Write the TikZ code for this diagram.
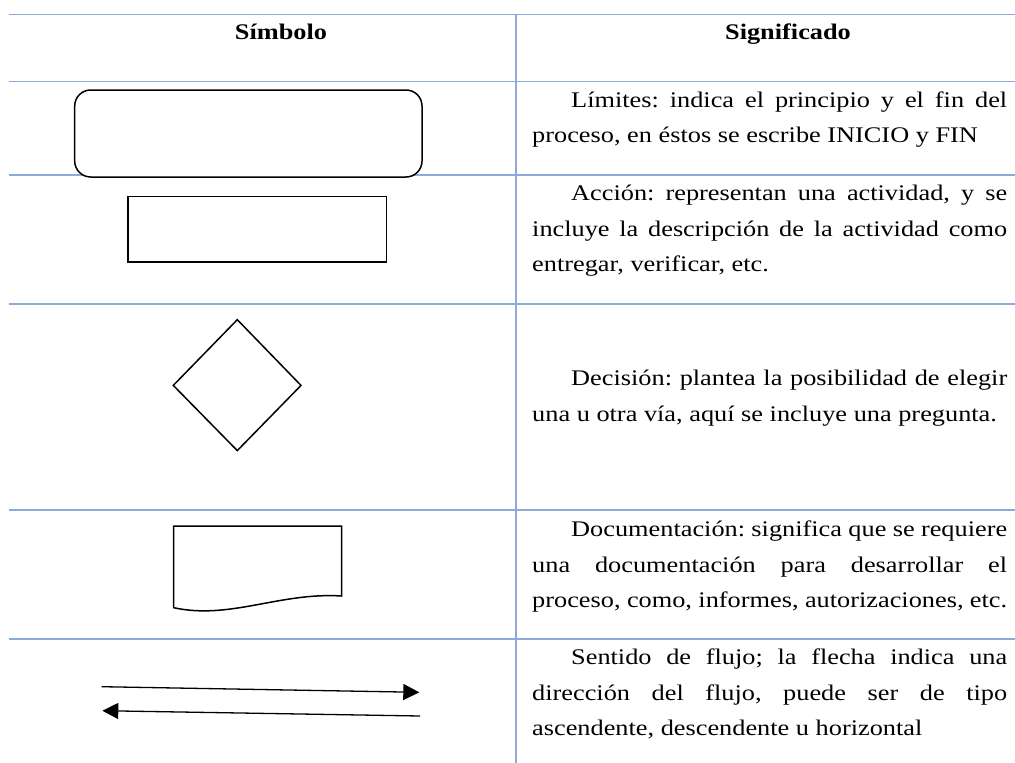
\documentclass[tikz,border=0pt]{standalone}
\usepackage{fontspec}
\setmainfont{Liberation Serif}[FakeStretch=1.18]
\usetikzlibrary{arrows.meta}

\definecolor{gridblue}{HTML}{8EAADB}

\tikzset{
  gridline/.style={draw=gridblue, line width=1.6pt},
  symbol/.style={draw=black, line width=1.5pt, fill=white},
  flow/.style={draw=black, line width=1.3pt, -{Triangle[length=16pt,width=16pt]}},
  desc/.style={anchor=base west, inner sep=0pt, text width=475pt, align=justify,
    font=\fontsize{22.3pt}{35.6pt}\selectfont\frenchspacing},
  head/.style={anchor=base, inner sep=0pt, font=\fontsize{22.3pt}{35.6pt}\selectfont\bfseries}
}

\newcommand{\firstind}{\hspace*{39pt}}

\begin{document}
\begin{tikzpicture}[x=1pt,y=-1pt]
  \useasboundingbox (0,0) rectangle (1015,763);

  \begin{scope}[gridline]
    \draw (9,14.5) -- (1015,14.5);
    \draw (9,81.5) -- (1015,81.5);
    \draw (9,175) -- (1015,175);
    \draw (9,304) -- (1015,304);
    \draw (9,510) -- (1015,510);
    \draw (9,639) -- (1015,639);
    \draw (516,14.5) -- (516,763);
  \end{scope}

  \begin{scope}[every node/.style={head}]
    \node (hsym) at (281,39.3) {Símbolo};
    \node (hsig) at (788,39.3) {Significado};
  \end{scope}

  \draw[symbol, rounded corners=16pt] (74.7,90) rectangle (422,177);
  \draw[symbol] (128,196.6) rectangle (386.7,261.8);
  \draw[symbol] (173.3,385.4) -- (237.3,319.7) -- (301,385.4) -- (237.3,450.6) -- cycle;
  \draw[symbol] (173.7,526) -- (341.7,526) -- (341.7,596)
    .. controls (280,592) and (230,620) .. (173.7,607.7) -- cycle;

  \coordinate (r1) at (101.7,686.7);
  \coordinate (r2) at (419.3,692.3);
  \coordinate (l1) at (420,716);
  \coordinate (l2) at (102.3,710.7);
  \draw[flow] (r1) -- (r2);
  \draw[flow] (l1) -- (l2);

  \begin{scope}[every node/.style={desc}]
    \node (tlim) at (532,107.3) {\firstind Límites: indica el principio y el fin del\linebreak
      proceso, en éstos se escribe INICIO y FIN};
    \node (tacc) at (532,200.7) {\firstind Acción: representan una actividad, y se\linebreak
      incluye la descripción de la actividad como\linebreak
      entregar, verificar, etc.};
    \node (tdec) at (532,385.6) {\firstind Decisión: plantea la posibilidad de elegir\linebreak
      una u otra vía, aquí se incluye una pregunta.};
    \node (tdoc) at (532,536.5) {\firstind Documentación: significa que se requiere\linebreak
      una documentación para desarrollar el\linebreak
      proceso, como, informes, autorizaciones, etc.};
    \node (tsen) at (532,664.5) {\firstind Sentido de flujo; la flecha indica una\linebreak
      dirección del flujo, puede ser de tipo\linebreak
      ascendente, descendente u horizontal};
  \end{scope}

\end{tikzpicture}
\end{document}
